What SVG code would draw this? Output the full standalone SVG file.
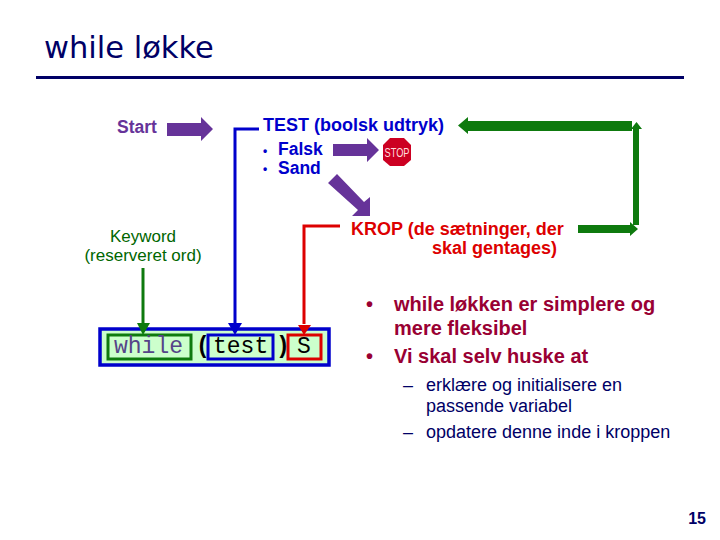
<svg xmlns="http://www.w3.org/2000/svg" width="720" height="540" viewBox="0 0 720 540">
<style>
text{font-family:"Liberation Sans",Arial,sans-serif}
.b{font-weight:bold}
.pu{fill:#663399}.bl{fill:#0000cc}.re{fill:#dd0000}.gr{fill:#0e7a0e}.ma{fill:#990033;font-weight:bold}.dk{fill:#006600}
.l{fill:none;stroke-width:3}
.m{font-family:"Liberation Mono",monospace;font-size:23px}
.h{font-size:18px}
.o{font-size:17.500px}
.k{font-size:17px}
.p{font-size:20px}
.s{font-size:18px}
</style>
<rect width="720" height="540" fill="#fff"/>
<g id="title"><text x="44" y="58" font-size="30.500" fill="#000066" style="font-family:'DejaVu Sans',sans-serif">while løkke</text><rect x="36" y="76" width="648" height="3" fill="#000066"/></g>
<g id="start"><text x="117" y="133" font-size="17.500" class="b pu">Start</text></g>
<g id="test" class="b bl"><text x="263" y="131" class="h">TEST (boolsk udtryk)</text>
<text x="263" y="155" font-size="12">•</text><text x="278" y="155" class="o">Falsk</text>
<text x="263" y="173" font-size="12">•</text><text x="278" y="174" class="o">Sand</text></g>
<g id="stop"><polygon points="390,138 404,138 411,145 411,160 404,166 390,166 383,160 383,145" fill="#cc0022"/><text x="397" y="157" font-size="13" fill="#ffdddd" text-anchor="middle" textLength="25" lengthAdjust="spacingAndGlyphs">STOP</text></g>
<g id="keyword"><text x="143" y="242" class="k dk" text-anchor="middle">Keyword</text><text x="143" y="261" class="k dk" text-anchor="middle">(reserveret ord)</text></g>
<g id="krop" class="b re"><text x="351" y="235" class="h">KROP (de sætninger, der</text><text x="432" y="254" class="h">skal gentages)</text></g>
<g id="code">
<rect x="100" y="329" width="229" height="36" fill="#ccffcc" stroke="#0000cc" stroke-width="3.500"/>
<rect x="108" y="335" width="83" height="24" fill="none" stroke="#0e7a0e" stroke-width="3"/>
<rect x="208" y="335" width="65" height="24" fill="none" stroke="#0000cc" stroke-width="3"/>
<rect x="288" y="335" width="33" height="24" fill="none" stroke="#dd0000" stroke-width="3"/>
<text x="114" y="353" class="m" fill="#554488">while</text>
<text x="196" y="353" class="m b" fill="#000">(</text>
<text x="213" y="353" class="m" fill="#000">test</text>
<text x="276" y="353" class="m b" fill="#000">)</text>
<text x="297" y="353" class="m" fill="#000">S</text>
</g>
<g id="bullets">
<text x="366" y="311" class="p ma">•</text><text x="394" y="311" class="p ma">while løkken er simplere og</text>
<text x="394" y="335" class="p ma">mere fleksibel</text>
<text x="366" y="363" class="p ma">•</text><text x="394" y="363" class="p ma">Vi skal selv huske at</text>
</g>
<g id="subbullets" fill="#000066">
<text x="403" y="391" class="s">–</text><text x="426" y="391" class="s">erklære og initialisere en</text>
<text x="426" y="412" class="s">passende variabel</text>
<text x="403" y="438" class="s">–</text><text x="426" y="438" class="s">opdatere denne inde i kroppen</text>
</g>
<g id="page"><text x="706" y="524" font-size="16" class="b" fill="#000066" text-anchor="end">15</text></g>
<g id="connectors">
<polygon class="pu" points="167,123 201,123 201,117 213,129 201,141 201,136 167,136"/>
<polygon class="pu" points="333,144 367,144 367,138 379,150 367,162 367,156 333,156"/>
<polygon class="pu" points="337,174 364,202 370,197 370,216 352,216 358,210 328,183"/>
<polygon class="gr" points="632,121 468,121 468,117 458,125.500 468,134 468,131 632,131"/>
<polygon class="gr" points="633,225 633,129 631,129 636.500,122 642,129 639,129 639,225"/>
<polygon class="gr" points="578,225 630,225 630,222 638,229 630,236 630,233 578,233"/>
<path class="l" stroke="#0000cc" d="M259,129H235V324"/><polygon fill="#0000cc" points="228,323 242,323 235,335"/>
<path class="l" stroke="#dd0000" d="M340,226H304V324"/><polygon fill="#dd0000" points="298,325 311,325 304,335"/>
<path class="l" stroke="#0e7a0e" d="M143,268V324"/><polygon fill="#0e7a0e" points="137,323 150,323 143,335"/>
</g>
</svg>
